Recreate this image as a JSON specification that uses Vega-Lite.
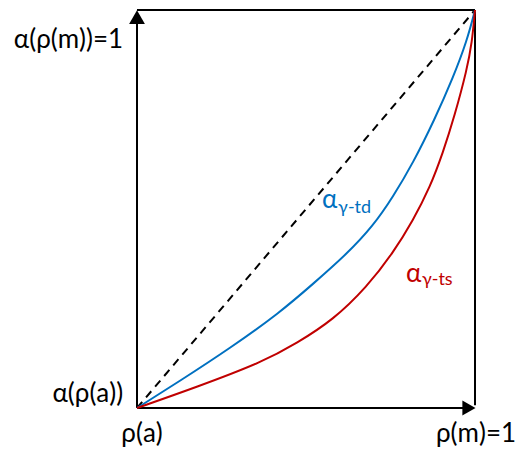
{
  "$schema": "https://vega.github.io/schema/vega-lite/v6.json",
  "width": 338,
  "height": 398,
  "autosize": {"type": "none"},
  "padding": {"left": 137, "top": 10, "right": 43, "bottom": 42},
  "background": "white",
  "config": {"view": {"stroke": null}},
  "datasets": {
    "box": [
      {"x": 0, "y": 0, "x2": 0, "y2": 0.99},
      {"x": 0, "y": 0, "x2": 0.99, "y2": 0},
      {"x": 0, "y": 1, "x2": 1, "y2": 1},
      {"x": 1, "y": 0.007, "x2": 1, "y2": 0.995}
    ],
    "diag": [{"x": 0, "y": 0}, {"x": 1, "y": 1}],
    "curves": [
      {"series": "td", "x": 0, "y": 0},
      {"series": "td", "x": 0.127, "y": 0.068},
      {"series": "td", "x": 0.275, "y": 0.15},
      {"series": "td", "x": 0.423, "y": 0.24},
      {"series": "td", "x": 0.521, "y": 0.312},
      {"series": "td", "x": 0.621, "y": 0.387},
      {"series": "td", "x": 0.698, "y": 0.457},
      {"series": "td", "x": 0.757, "y": 0.53},
      {"series": "td", "x": 0.817, "y": 0.616},
      {"series": "td", "x": 0.88, "y": 0.724},
      {"series": "td", "x": 0.935, "y": 0.83},
      {"series": "td", "x": 0.976, "y": 0.922},
      {"series": "td", "x": 1, "y": 1},
      {"series": "ts", "x": 0, "y": 0},
      {"series": "ts", "x": 0.178, "y": 0.053},
      {"series": "ts", "x": 0.373, "y": 0.116},
      {"series": "ts", "x": 0.473, "y": 0.163},
      {"series": "ts", "x": 0.58, "y": 0.221},
      {"series": "ts", "x": 0.68, "y": 0.304},
      {"series": "ts", "x": 0.757, "y": 0.389},
      {"series": "ts", "x": 0.817, "y": 0.472},
      {"series": "ts", "x": 0.867, "y": 0.555},
      {"series": "ts", "x": 0.905, "y": 0.641},
      {"series": "ts", "x": 0.94, "y": 0.735},
      {"series": "ts", "x": 0.976, "y": 0.85},
      {"series": "ts", "x": 0.991, "y": 0.917},
      {"series": "ts", "x": 1, "y": 1}
    ],
    "arrowUp": [{"x": 0, "y": 0.982}],
    "arrowRight": [{"x": 0.982, "y": 0}],
    "lblR": [
      {"x": -0.041, "y": 0.905, "text": "α(ρ(m))=1"},
      {"x": -0.041, "y": 0.015, "text": "α(ρ(a))"}
    ],
    "lblC": [
      {"x": 0.015, "y": -0.085, "text": "ρ(a)"},
      {"x": 1.003, "y": -0.085, "text": "ρ(m)=1"}
    ],
    "alpha": [
      {"series": "td", "x": 0.547, "y": 0.503, "text": "α"},
      {"series": "ts", "x": 0.796, "y": 0.317, "text": "α"}
    ],
    "sub": [
      {"series": "td", "x": 0.595, "y": 0.49, "text": "γ-td"},
      {"series": "ts", "x": 0.843, "y": 0.309, "text": "γ-ts"}
    ]
  },
  "layer": [
    {
      "data": {"name": "box"},
      "mark": {"type": "rule", "color": "black", "strokeWidth": 2},
      "encoding": {
        "x": {"field": "x", "type": "quantitative", "scale": {"domain": [0, 1]}, "axis": null},
        "y": {"field": "y", "type": "quantitative", "scale": {"domain": [0, 1]}, "axis": null},
        "x2": {"field": "x2"},
        "y2": {"field": "y2"}
      }
    },
    {
      "data": {"name": "diag"},
      "mark": {"type": "line", "color": "black", "strokeWidth": 2, "strokeDash": [8, 6]},
      "encoding": {
        "x": {"field": "x", "type": "quantitative"},
        "y": {"field": "y", "type": "quantitative"}
      }
    },
    {
      "data": {"name": "curves"},
      "mark": {"type": "line", "strokeWidth": 2, "interpolate": "basis"},
      "encoding": {
        "x": {"field": "x", "type": "quantitative"},
        "y": {"field": "y", "type": "quantitative"},
        "color": {"field": "series", "type": "nominal", "scale": {"domain": ["td", "ts"], "range": ["#0070C0", "#C00000"]}, "legend": null}
      }
    },
    {
      "data": {"name": "arrowUp"},
      "mark": {"type": "point", "shape": "triangle-up", "filled": true, "color": "black", "opacity": 1, "size": 250},
      "encoding": {
        "x": {"field": "x", "type": "quantitative"},
        "y": {"field": "y", "type": "quantitative"}
      }
    },
    {
      "data": {"name": "arrowRight"},
      "mark": {"type": "point", "shape": "triangle-right", "filled": true, "color": "black", "opacity": 1, "size": 230},
      "encoding": {
        "x": {"field": "x", "type": "quantitative"},
        "y": {"field": "y", "type": "quantitative"}
      }
    },
    {
      "data": {"name": "lblR"},
      "mark": {"type": "text", "align": "right", "baseline": "alphabetic", "font": "Lato", "fontSize": 26, "color": "black"},
      "encoding": {
        "x": {"field": "x", "type": "quantitative"},
        "y": {"field": "y", "type": "quantitative"},
        "text": {"field": "text"}
      }
    },
    {
      "data": {"name": "lblC"},
      "mark": {"type": "text", "align": "center", "baseline": "alphabetic", "font": "Lato", "fontSize": 26, "color": "black"},
      "encoding": {
        "x": {"field": "x", "type": "quantitative"},
        "y": {"field": "y", "type": "quantitative"},
        "text": {"field": "text"}
      }
    },
    {
      "data": {"name": "alpha"},
      "mark": {"type": "text", "align": "left", "baseline": "alphabetic", "font": "Lato", "fontSize": 26},
      "encoding": {
        "x": {"field": "x", "type": "quantitative"},
        "y": {"field": "y", "type": "quantitative"},
        "text": {"field": "text"},
        "color": {"field": "series", "type": "nominal", "scale": {"domain": ["td", "ts"], "range": ["#0070C0", "#C00000"]}, "legend": null}
      }
    },
    {
      "data": {"name": "sub"},
      "mark": {"type": "text", "align": "left", "baseline": "alphabetic", "font": "Lato", "fontSize": 18},
      "encoding": {
        "x": {"field": "x", "type": "quantitative"},
        "y": {"field": "y", "type": "quantitative"},
        "text": {"field": "text"},
        "color": {"field": "series", "type": "nominal", "scale": {"domain": ["td", "ts"], "range": ["#0070C0", "#C00000"]}, "legend": null}
      }
    }
  ]
}
